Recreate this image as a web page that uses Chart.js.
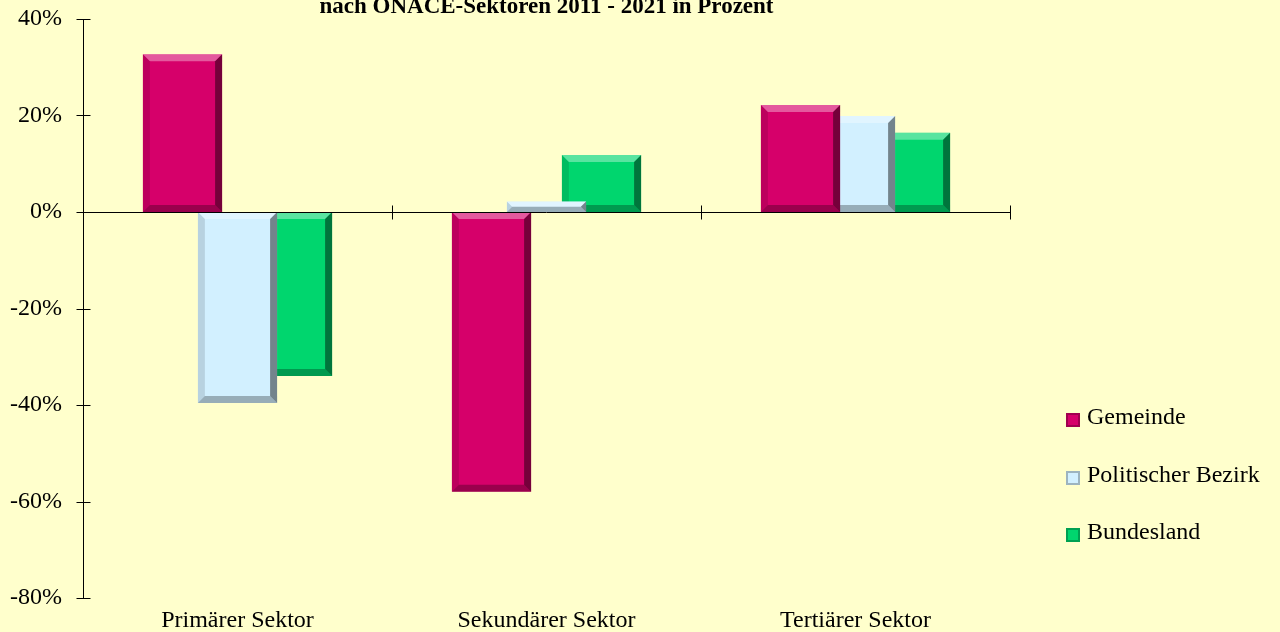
<!DOCTYPE html>
<html>
<head>
<meta charset="utf-8">
<script src="https://cdn.jsdelivr.net/npm/chart.js@4"></script>
<style>
  body { margin: 0; background: #FFFFCC; }
  #wrap { position: relative; width: 1280px; height: 632px; }
  #legend { position: absolute; left: 1066px; top: 403px; font: 24px "Liberation Serif", "Times New Roman", serif; color: #000; }
  .item { height: 57.5px; display: flex; align-items: flex-start; }
  .box { width: 14px; height: 14px; margin-right: 7px; margin-top: 10px; box-sizing: border-box; border: 2px solid rgba(0,0,0,0.25); }
</style>
</head>
<body>
<div id="wrap">
  <canvas id="sectorChart" width="1280" height="632"></canvas>
  <div id="legend"></div>
</div>
<script>
// data
const sectors = ["Primärer Sektor", "Sekundärer Sektor", "Tertiärer Sektor"];
const seriesNames = ["Gemeinde", "Politischer Bezirk", "Bundesland"];
const gemeinde = [32.7, -58.0, 22.2];
const bezirk = [-39.6, 2.2, 19.9];
const bundesland = [-34.0, 11.8, 16.4];
const seriesColors = ["#D6006A", "#D2F0FF", "#00D66E"];
const titleText = "nach ÖNACE-Sektoren 2011 - 2021 in Prozent";

const font = "Liberation Serif";

// title (cut off at the top edge) + tick marks that cross the axes
const axisPlugin = {
  id: "axisExtras",
  afterDatasetsDraw(chart) {
    const ctx = chart.ctx;
    const area = chart.chartArea;
    const xs = chart.scales.x;
    const ys = chart.scales.y;
    const y0 = Math.round(ys.getPixelForValue(0)) + 0.5;
    ctx.save();
    ctx.strokeStyle = "#000";
    ctx.lineWidth = 1;
    ctx.beginPath();
    ctx.moveTo(area.left, y0);
    ctx.lineTo(area.right, y0);
    // category boundaries on the zero line
    const step = (area.right - area.left) / sectors.length;
    for (let i = 1; i <= sectors.length; i++) {
      const bx = Math.round(xs.getPixelForValue(i - 1) + step / 2) + 0.5;
      ctx.moveTo(bx, y0 - 7);
      ctx.lineTo(bx, y0 + 7);
    }
    // y ticks crossing the axis line
    const ax = Math.round(area.left) + 0.5;
    ys.ticks.forEach(t => {
      const ty = Math.round(ys.getPixelForValue(t.value)) + 0.5;
      ctx.moveTo(ax - 7, ty);
      ctx.lineTo(ax + 7, ty);
    });
    ctx.stroke();
    ctx.restore();
  },
  afterDraw(chart) {
    const ctx = chart.ctx;
    const area = chart.chartArea;
    ctx.save();
    ctx.font = "bold 23px '" + font + "'";
    ctx.fillStyle = "#000";
    ctx.textAlign = "center";
    ctx.textBaseline = "alphabetic";
    ctx.fillText(titleText, (area.left + area.right) / 2, 13);
    ctx.restore();
  }
};

// rough bevel look on every bar
const bevelPlugin = {
  id: "bevel",
  afterDatasetDraw(chart, args) {
    const ctx = chart.ctx;
    const poly = (pts, fill) => {
      ctx.beginPath();
      ctx.moveTo(pts[0][0], pts[0][1]);
      for (let i = 1; i < pts.length; i++) ctx.lineTo(pts[i][0], pts[i][1]);
      ctx.closePath();
      ctx.fillStyle = fill;
      ctx.fill();
    };
    ctx.save();
    args.meta.data.forEach(bar => {
      const p = bar.getProps(["x", "y", "base", "width"], true);
      const l = p.x - p.width / 2, r = p.x + p.width / 2;
      const t = Math.min(p.y, p.base), b = Math.max(p.y, p.base);
      const bv = Math.min(7, (b - t) / 2, p.width / 2);
      poly([[l, t], [r, t], [r - bv, t + bv], [l + bv, t + bv]], "rgba(255,255,255,0.35)");
      poly([[l, t], [l, b], [l + bv, b - bv], [l + bv, t + bv]], "rgba(0,0,0,0.12)");
      poly([[l, b], [r, b], [r - bv, b - bv], [l + bv, b - bv]], "rgba(0,0,0,0.28)");
      poly([[r, t], [r, b], [r - bv, b - bv], [r - bv, t + bv]], "rgba(0,0,0,0.45)");
    });
    ctx.restore();
  }
};

const ctx = document.getElementById("sectorChart").getContext("2d");

const values = [gemeinde, bezirk, bundesland];

new Chart(ctx, {
  type: "bar",
  data: {
    labels: sectors,
    datasets: seriesNames.map((name, i) => ({
      label: name,
      data: values[i],
      backgroundColor: seriesColors[i],
      borderWidth: 0,
      categoryPercentage: 0.534,
      barPercentage: 1.44
    }))
  },
  options: {
    responsive: false,
    animation: false,
    layout: { padding: { top: 19, right: 270, bottom: 0, left: 0 } },
    plugins: {
      legend: { display: false },
      tooltip: { enabled: false }
    },
    scales: {
      x: {
        grid: { display: false, drawTicks: false },
        border: { display: false },
        ticks: { color: "#000", padding: 8, font: { family: font, size: 24 } },
        afterFit: s => { s.height = 34; }
      },
      y: {
        min: -80,
        max: 40,
        ticks: {
          stepSize: 20,
          color: "#000",
          padding: 21,
          font: { family: font, size: 24 },
          callback: v => v + "%"
        },
        grid: { display: false, drawTicks: false },
        border: { color: "#000" },
        afterFit: s => {
          s.width = 83;
          s.paddingTop = 0;
          s.paddingBottom = 0;
        }
      }
    }
  },
  plugins: [axisPlugin, bevelPlugin]
});

// legend as html, built from the series arrays
const legend = document.getElementById("legend");
seriesNames.forEach((name, i) => {
  const item = document.createElement("div");
  item.className = "item";
  const box = document.createElement("span");
  box.className = "box";
  box.style.background = seriesColors[i];
  const label = document.createElement("span");
  label.textContent = name;
  item.appendChild(box);
  item.appendChild(label);
  legend.appendChild(item);
});
</script>
</body>
</html>
